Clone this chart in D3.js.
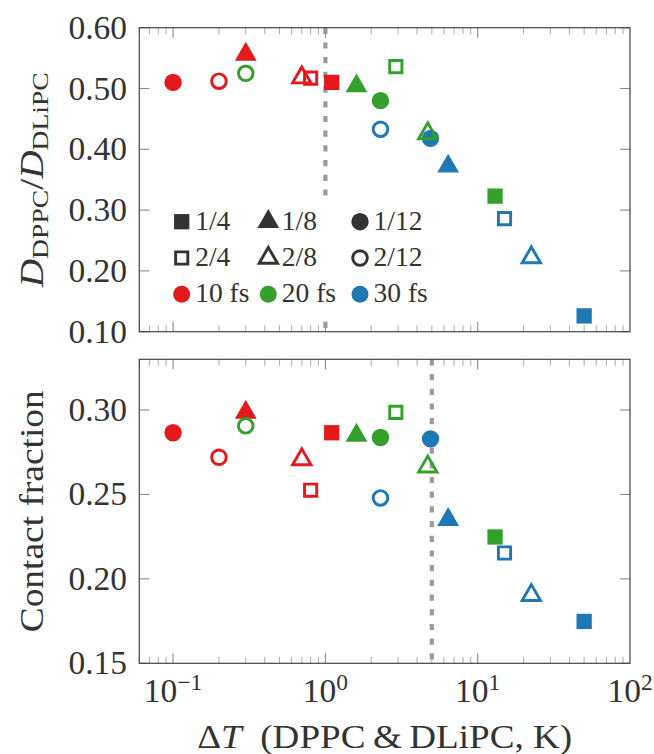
<!DOCTYPE html>
<html>
<head>
<meta charset="utf-8">
<script src="https://cdn.jsdelivr.net/npm/d3@7"></script>
<style>
  html, body { margin: 0; padding: 0; background: #fff; }
  svg { display: block; }
</style>
</head>
<body>
<div id="chart"></div>
<script>
// ---- data ----
// drawing order matters a little where markers overlap
const deltaT   = [0.1, 0.2, 0.3, 0.3, 0.7, 0.8, 1.1, 1.6, 2.3, 2.3, 2.9, 4.9, 4.7, 6.4, 13, 15, 22.5, 50];
const diffRatio = [0.510, 0.512, 0.556, 0.525, 0.518, 0.517, 0.510, 0.504, 0.480, 0.433, 0.536, 0.418, 0.426, 0.372, 0.323, 0.286, 0.222, 0.126];
const contactFrac = [0.2865, 0.272, 0.2986, 0.2906, 0.2707, 0.2525, 0.2865, 0.2849, 0.2837, 0.2479, 0.2986, 0.2829, 0.2664, 0.2351, 0.2248, 0.2153, 0.1903, 0.1748];
const timestep = ['10 fs', '10 fs', '10 fs', '20 fs', '10 fs', '10 fs', '10 fs', '20 fs', '20 fs', '30 fs', '20 fs', '30 fs', '20 fs', '30 fs', '20 fs', '30 fs', '30 fs', '30 fs'];
const scheme   = ['1/12', '2/12', '1/8', '2/12', '2/8', '2/4', '1/4', '1/8', '1/12', '2/12', '2/4', '1/12', '2/8', '1/8', '1/4', '2/4', '2/8', '1/4'];

const timesteps = ['10 fs', '20 fs', '30 fs'];
const stepColors = ['#e31a1c', '#33a02c', '#1f78b4'];
const legendSchemes = [['1/4', '1/8', '1/12'], ['2/4', '2/8', '2/12']];

const topTicks = [0.10, 0.20, 0.30, 0.40, 0.50, 0.60];
const bottomTicks = [0.15, 0.20, 0.25, 0.30];
const xMajor = [0.1, 1, 10, 100];
const xExp = ['\u22121', '0', '1', '2'];

// ---- layout ----
const W = 654, H = 754;
const FONT = '"Liberation Serif"';
const INK = '#333';
const left = 139.3, right = 630;
const panels = [
  { top: 27.7, bottom: 331.7, domain: [0.10, 0.60], values: diffRatio, ticks: topTicks, cut: 1 },
  { top: 359.3, bottom: 663.3, domain: [0.15, 0.33], values: contactFrac, ticks: bottomTicks, cut: 5 }
];

const color = d3.scaleOrdinal(timesteps, stepColors);
const x = d3.scaleLog().domain([0.06, 100]).range([left, right]);

const svg = d3.select('#chart').append('svg')
  .attr('width', W).attr('height', H);

function label(sel, size) {
  return sel.style('font-family', FONT).style('font-size', size + 'px').attr('fill', INK);
}

// minor ticks of the log axis
const xMinor = [];
[0.01, 0.1, 1, 10].forEach(function(d) {
  for (let k = 2; k <= 9; k++) {
    const v = +(d * k).toPrecision(3);
    if (v >= 0.06 && v <= 100) xMinor.push(v);
  }
});

function markerPath(s, filled) {
  const den = s.split('/')[1];
  if (den === '4') {
    const side = filled ? 15.3 : 12.2;
    return d3.symbol(d3.symbolSquare, side * side)();
  }
  if (den === '8') {
    const r = filled ? 12.6 : 10.6;
    return d3.symbol(d3.symbolTriangle, 3 * Math.sqrt(3) * r * r / 4)();
  }
  const r = filled ? 8.7 : 7.3;
  return d3.symbol(d3.symbolCircle, Math.PI * r * r)();
}

function drawMarker(g, s, c) {
  const filled = s.charAt(0) === '1';
  return g.append('path')
    .attr('d', markerPath(s, filled))
    .attr('fill', filled ? c : 'none')
    .attr('stroke', filled ? 'none' : c)
    .attr('stroke-width', filled ? 0 : 2.9)
    .attr('stroke-linejoin', 'miter');
}

panels.forEach(function(p, pi) {
  const y = d3.scaleLinear().domain(p.domain).range([p.bottom, p.top]);
  const g = svg.append('g');

  // ticks (inward on all four sides)
  const tk = g.append('g');
  [p.top, p.bottom].forEach(function(edge) {
    const dir = edge === p.top ? 1 : -1;
    tk.selectAll(null).data(xMinor).join('line')
      .attr('x1', d => x(d)).attr('x2', d => x(d))
      .attr('y1', edge).attr('y2', edge + dir * 6.5)
      .attr('stroke', '#b0b0b0').attr('stroke-width', 1.1);
    tk.selectAll(null).data(xMajor.filter(d => d < 100)).join('line')
      .attr('x1', d => x(d)).attr('x2', d => x(d))
      .attr('y1', edge).attr('y2', edge + dir * 10)
      .attr('stroke', '#8a8a8a').attr('stroke-width', 1.1);
  });
  [left, right].forEach(function(edge) {
    const dir = edge === left ? 1 : -1;
    tk.selectAll(null).data(p.ticks).join('line')
      .attr('x1', edge).attr('x2', edge + dir * 10)
      .attr('y1', d => y(d)).attr('y2', d => y(d))
      .attr('stroke', '#8a8a8a').attr('stroke-width', 1.1);
  });

  // y tick labels
  label(g.selectAll(null).data(p.ticks).join('text'), 33.5)
    .attr('x', 127).attr('y', d => y(d) + 11)
    .attr('text-anchor', 'end')
    .text(d => d3.format('.2f')(d));

  // dashed reference line
  g.append('line')
    .attr('x1', x(p.cut)).attr('x2', x(p.cut))
    .attr('y1', p.top).attr('y2', p.bottom)
    .attr('stroke', '#9b9b9b').attr('stroke-width', 4.2)
    .attr('stroke-dasharray', '6.2 8.5');

  // legend (top panel only)
  if (pi === 0) {
    const lg = g.append('g');
    lg.append('rect')
      .attr('x', 166).attr('y', 197).attr('width', 276).attr('height', 120)
      .attr('fill', '#fff');
    const colX = [181.7, 268.3, 360];
    const rowY = [221.7, 258, 294.3];
    legendSchemes.forEach(function(row, ri) {
      row.forEach(function(s, ci) {
        drawMarker(lg, s, INK)
          .attr('transform', 'translate(' + colX[ci] + ',' + rowY[ri] + ')');
        label(lg.append('text'), 27.5)
          .attr('x', colX[ci] + 13.5).attr('y', rowY[ri] + 8)
          .text(s);
      });
    });
    timesteps.forEach(function(t, ci) {
      lg.append('path')
        .attr('d', d3.symbol(d3.symbolCircle, Math.PI * 8.5 * 8.5)())
        .attr('fill', color(t))
        .attr('transform', 'translate(' + colX[ci] + ',' + rowY[2] + ')');
      label(lg.append('text'), 27.5)
        .attr('x', colX[ci] + 13.5).attr('y', rowY[2] + 8)
        .text(t);
    });
  }

  // data markers
  const mk = g.append('g');
  deltaT.forEach(function(dt, i) {
    drawMarker(mk, scheme[i], color(timestep[i]))
      .attr('transform', 'translate(' + x(dt) + ',' + y(p.values[i]) + ')');
  });

  // frame
  g.append('rect')
    .attr('x', left).attr('y', p.top)
    .attr('width', right - left).attr('height', p.bottom - p.top)
    .attr('fill', 'none').attr('stroke', '#444').attr('stroke-width', 1.2);
});

// x tick labels (bottom panel)
const xl = svg.append('g');
xMajor.forEach(function(v, i) {
  const t = label(xl.append('text'), 33.5)
    .attr('x', x(v)).attr('y', 701.7)
    .attr('text-anchor', 'middle');
  t.append('tspan').text('10');
  t.append('tspan').attr('dy', -12).style('font-size', '23.5px').text(xExp[i]);
});

// axis titles
const xt = label(svg.append('text'), 34)
  .attr('x', (left + right) / 2).attr('y', 748)
  .attr('text-anchor', 'middle')
  .attr('textLength', 375).attr('lengthAdjust', 'spacingAndGlyphs');
xt.append('tspan').text('\u0394');
xt.append('tspan').style('font-style', 'italic').text('T');
xt.append('tspan').text('\u2002(DPPC\u2009&\u2009DLiPC, K)');

const yt = label(svg.append('text'), 34)
  .attr('transform', 'translate(43,' + (panels[0].top + panels[0].bottom) / 2 + ') rotate(-90)')
  .attr('text-anchor', 'middle')
  .attr('textLength', 215).attr('lengthAdjust', 'spacingAndGlyphs');
yt.append('tspan').style('font-style', 'italic').text('D');
yt.append('tspan').attr('dy', 5).style('font-size', '24px').text('DPPC');
yt.append('tspan').attr('dy', -5).text('/');
yt.append('tspan').style('font-style', 'italic').text('D');
yt.append('tspan').attr('dy', 5).style('font-size', '24px').text('DLiPC');

label(svg.append('text'), 34)
  .attr('transform', 'translate(43,' + (panels[1].top + panels[1].bottom) / 2 + ') rotate(-90)')
  .attr('text-anchor', 'middle')
  .attr('textLength', 242).attr('lengthAdjust', 'spacingAndGlyphs')
  .text('Contact fraction');
</script>
</body>
</html>
